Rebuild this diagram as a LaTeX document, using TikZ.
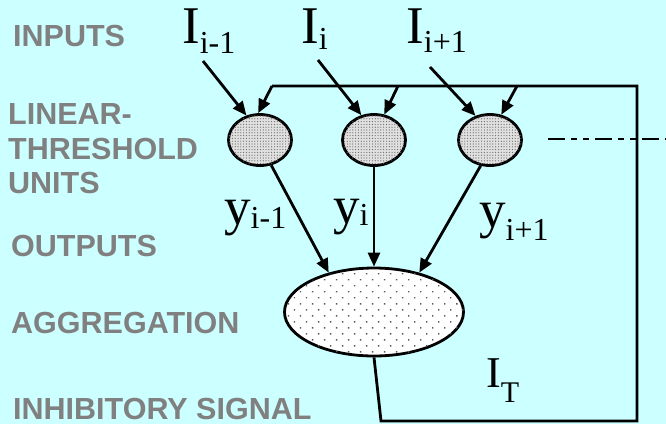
\documentclass[tikz,border=0pt]{standalone}
\usepackage{fontspec}
\setmainfont{Liberation Serif}
\newfontfamily\headfont{Liberation Sans}
\usepackage{tikz}
\usetikzlibrary{shapes.geometric,arrows.meta,patterns.meta}
\definecolor{bgcyan}{RGB}{204,255,255}
\definecolor{labelgray}{RGB}{128,128,128}
\newcommand{\sub}[3][32]{\raisebox{-#2}{\fontsize{#1}{#1}\selectfont #3}}

\begin{document}
\begin{tikzpicture}[x=1pt, y=-1pt,
    head/.style={font=\headfont\bfseries\fontsize{30.5}{30.5}\selectfont, text=labelgray,
        anchor=base west, inner sep=0pt},
    sym/.style={font=\fontsize{53}{53}\selectfont, anchor=base west, inner sep=0pt},
    unit/.style={ellipse, draw, line width=2.8pt, minimum width=63pt, minimum height=51pt,
        inner sep=0pt, fill=black!12,
        postaction={pattern={Dots[distance=2.8pt, radius=0.6pt]}, pattern color=black!60}},
    aggr/.style={ellipse, draw, line width=2.8pt, minimum width=179pt, minimum height=88pt,
        inner sep=0pt, fill=white,
        postaction={pattern={Dots[distance=8.5pt, angle=45, radius=1pt]}, pattern color=black!65}},
    line/.style={line width=2.8pt},
    arr/.style={-{Triangle[length=14pt, width=12pt]}, line width=2.8pt}
]
    \fill[bgcyan] (0,0) rectangle (666,424);
    \useasboundingbox (0,0) rectangle (666,424);

    % Row captions
    \node[head] (capin) at (13,46) {INPUTS};
    \node[head] (caplin) at (8,124) {LINEAR-};
    \node[head] (capthr) at (8,159) {THRESHOLD};
    \node[head] (capun) at (8,193) {UNITS};
    \node[head] (capout) at (11,256) {OUTPUTS};
    \node[head] (capagg) at (11,333) {AGGREGATION};
    \node[head] (capinh) at (13,419) {INHIBITORY SIGNAL};

    % Inputs and units
    \node[sym] (i1) at (182,43) {I\sub{10pt}{i-1}};
    \node[sym] (i2) at (301,43) {I\sub{6pt}{i}};
    \node[sym] (i3) at (406,43) {I\sub{9pt}{i+1}};

    \node[unit] (u1) at (260,140) {};
    \node[unit] (u2) at (374,140) {};
    \node[unit] (u3) at (490,140) {};

    \node[aggr] (agg) at (374,312) {};

    % Outputs
    \node[sym] (y1) at (224,224) {y\sub{4pt}{i-1}};
    \node[sym] (y2) at (333,223) {y\sub{2pt}{i}};
    \node[sym] (y3) at (479,227) {y\sub{13pt}{i+1}};
    \node[sym, font=\fontsize{44}{44}\selectfont] (it) at (486,387) {I\sub[30]{15pt}{T}};

    \coordinate (a1) at (203,61);
    \coordinate (a2) at (318,60);
    \coordinate (a3) at (430,67);
    \coordinate (tl) at (272,86);
    \coordinate (t2) at (398,86);
    \coordinate (t3) at (517,86);
    \coordinate (tr) at (637,86);
    \coordinate (bl) at (381,421);
    \coordinate (dash) at (548,139);
    \coordinate (edge) at (666,139);

    \draw[line, dash pattern=on 17pt off 6pt on 6pt off 6pt on 6pt off 6pt] (dash) -- (edge);

    \draw[arr] (a1) -- (u1.119);
    \draw[arr] (a2) -- (u2.117);
    \draw[arr] (a3) -- (u3.121);

    % Inhibitory feedback
    \draw[line, line join=miter] (agg.south) -- (bl) -| (tr) -- (tl);
    \draw[arr] (tl) -- (u1.94);
    \draw[arr] (t2) -- (u2.68);
    \draw[arr] (t3) -- (u3.66);

    \draw[arr] (u1.-66) -- (agg.139);
    \draw[arr] (u2.south) -- (agg.north);
    \draw[arr] (u3.-110) -- (agg.41);
\end{tikzpicture}
\end{document}
